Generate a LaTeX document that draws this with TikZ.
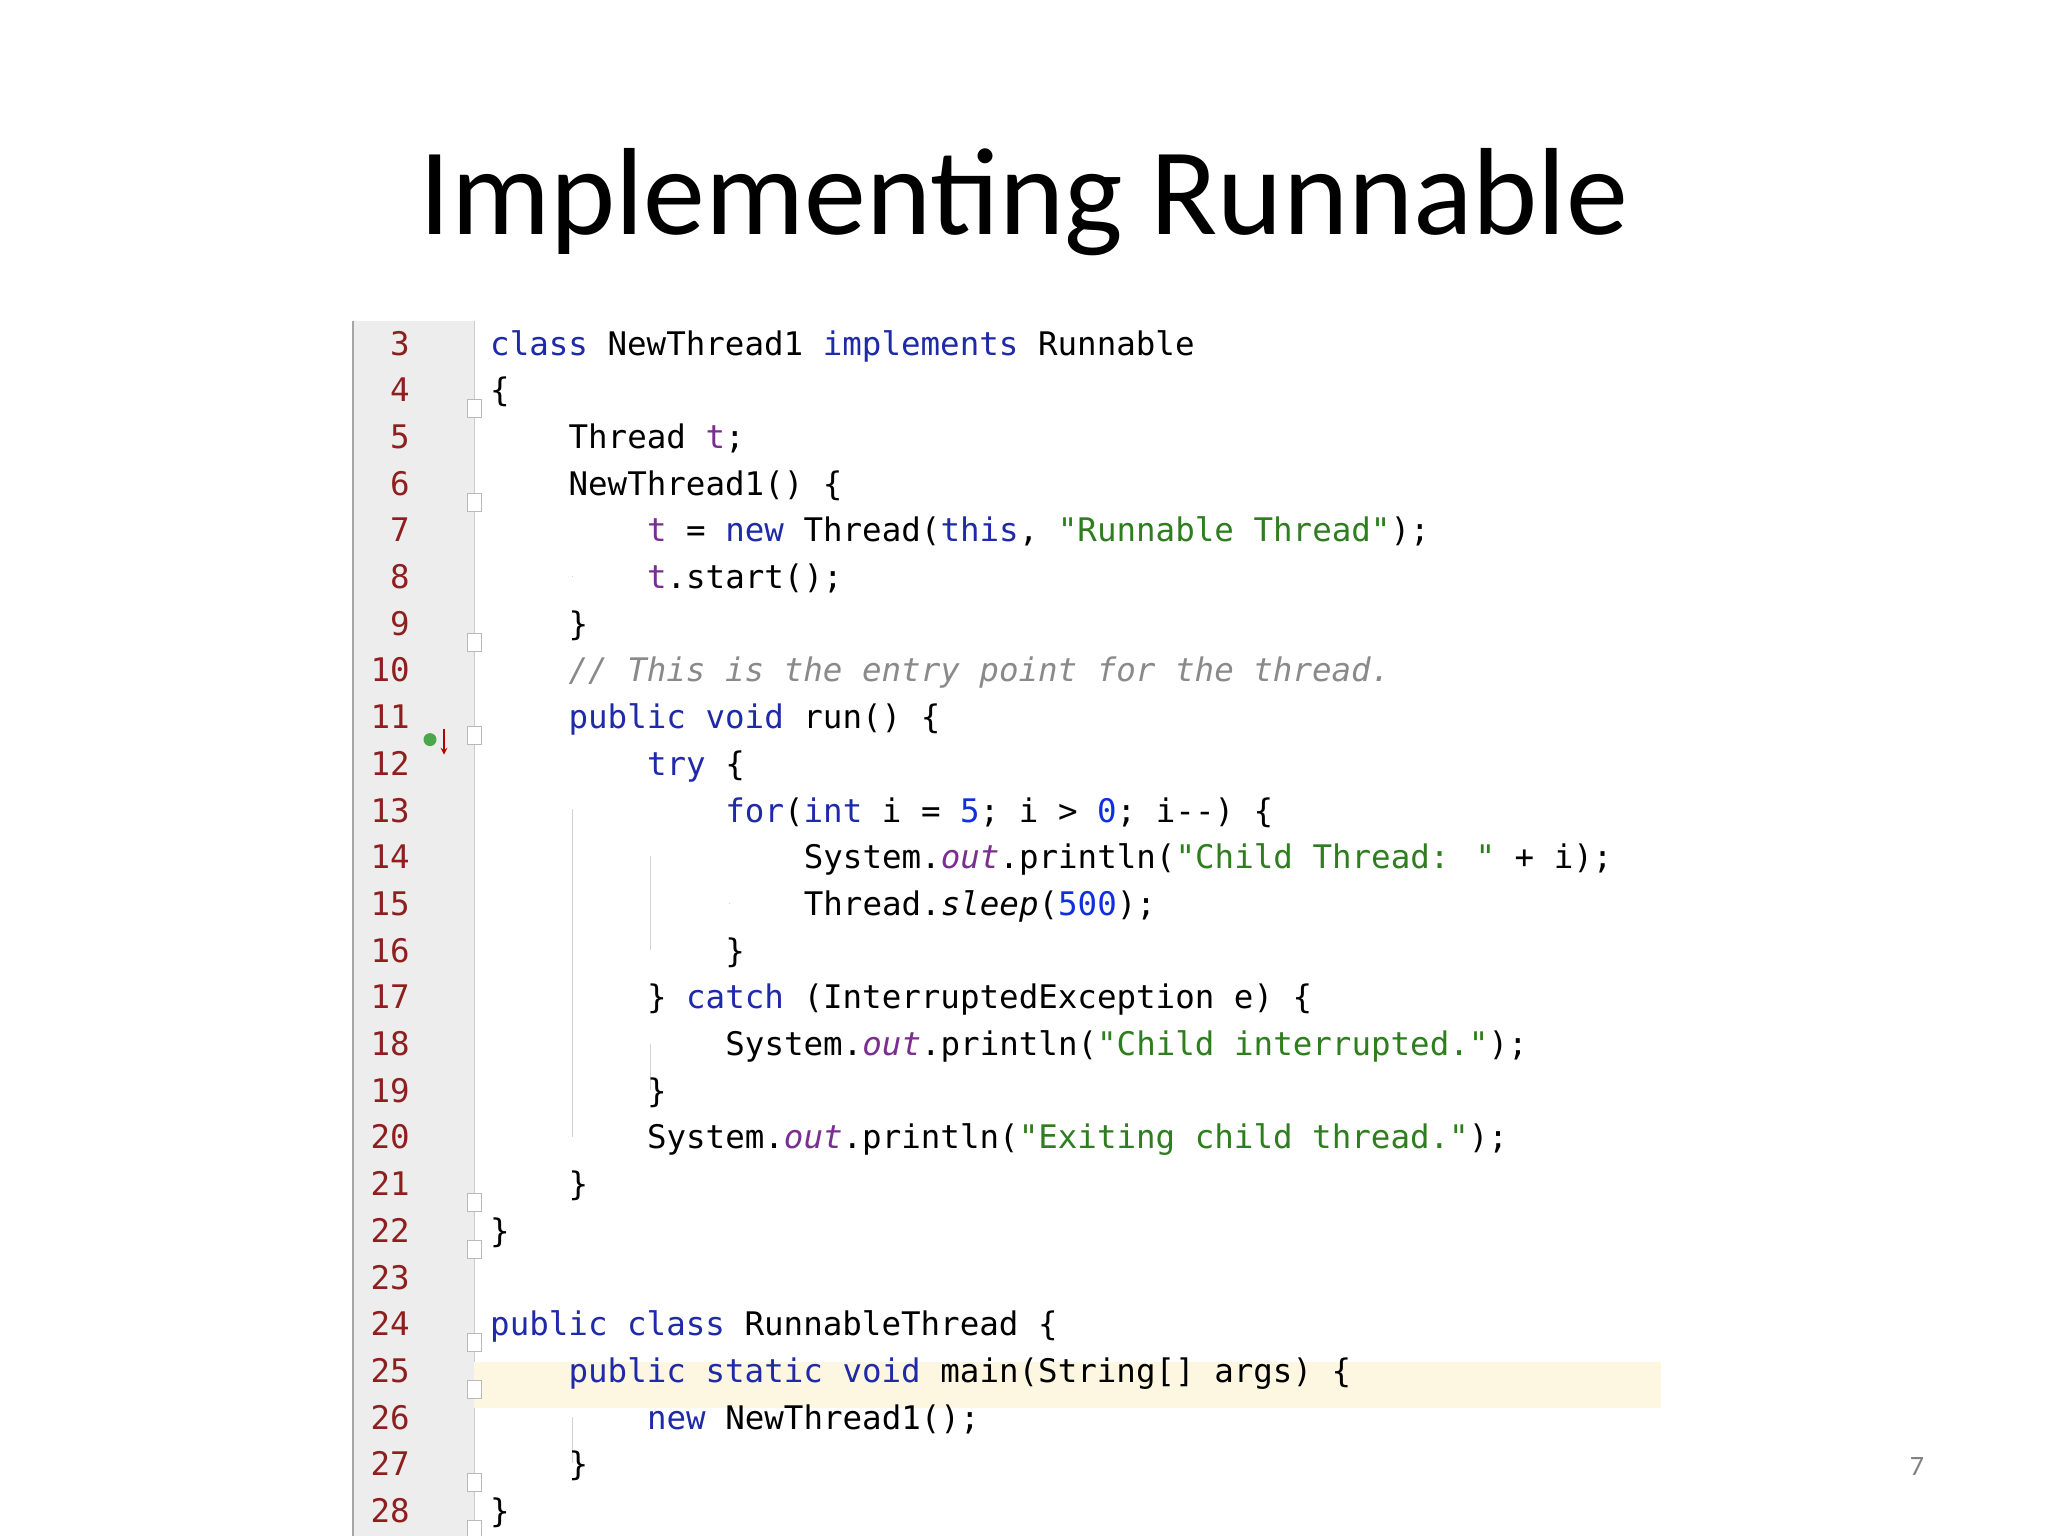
\documentclass[tikz,border=0pt]{standalone}
\usepackage{fontspec}
\setmainfont{Carlito}
\newfontfamily\code{DejaVu Sans Mono}
\definecolor{kwc}{HTML}{1F2AA8}
\definecolor{fldc}{HTML}{7A2E8E}
\definecolor{strc}{HTML}{2E7D1E}
\definecolor{numc}{HTML}{1030E0}
\definecolor{cmtc}{HTML}{8A8A8A}
\definecolor{lnc}{HTML}{8E1F1F}
\definecolor{gutc}{HTML}{EDEDED}
\definecolor{hlc}{HTML}{FDF7E2}
\newcommand\kw[1]{\textcolor{kwc}{#1}}
\newcommand\fld[1]{\textcolor{fldc}{#1}}
\newcommand\fldi[1]{\textcolor{fldc}{\itshape #1}}
\newcommand\str[1]{\textcolor{strc}{#1}}
\newcommand\nm[1]{\textcolor{numc}{#1}}
\newcommand\cmt[1]{\textcolor{cmtc}{\itshape #1}}
\newcommand\ly[1]{(-355-(#1-3)*46.7)}
\newcommand\cl[3]{\node[codetxt] (l#1) at ({490+#2*19.6},{-355-(#1-3)*46.7}) {#3};\node[lnum] (n#1) at (410,{-355-(#1-3)*46.7}) {#1};}
\newcommand\fm[1]{\draw[foldm] ({467},{-355-(#1-3)*46.7+2}) rectangle ({481},{-355-(#1-3)*46.7-16});}
\newcommand\gl[3]{\draw[guide] (#1,{-355-(#2-3)*46.7-34}) -- (#1,{-355-(#3-3)*46.7+12});}
\tikzset{codetxt/.style={anchor=base west,inner sep=0,font=\code\fontsize{32.5}{40}\selectfont},
lnum/.style={anchor=base east,inner sep=0,text=lnc,font=\code\fontsize{32.5}{40}\selectfont},
foldm/.style={draw=gray!55,fill=white,line width=1pt},
guide/.style={draw=gray!35,line width=1pt}}
\begin{document}
\begin{tikzpicture}[x=1pt,y=1pt]
\useasboundingbox[fill=white] (0,0) rectangle (2048,-1536);
\node (title) at (1024,-202) {\fontsize{124}{130}\selectfont Implementing Runnable};
\fill[gutc] (353,-321) rectangle (474,-1536);
\draw[gray!70,line width=2pt] (353,-321) -- (353,-1536);
\draw[gray!40,line width=1pt] (474,-321) -- (474,-1536);
\fill[hlc] (474,{-355-22*46.7-26}) rectangle (1661,{-355-22*46.7+20});
\gl{572}{7}{8}
\gl{572}{12}{20}
\gl{650}{13}{16}
\gl{650}{18}{18}
\gl{729}{14}{15}
\gl{572}{26}{26}
\foreach \k in {4,6,9,11,21,22,24,25,27,28} {\fm{\k}}
\cl{3}{0}{\kw{class} NewThread1 \kw{implements} Runnable}
\cl{4}{0}{\{}
\cl{5}{4}{Thread \fld{t};}
\cl{6}{4}{NewThread1() \{}
\cl{7}{8}{\fld{t} = \kw{new} Thread(\kw{this}, \str{"Runnable Thread"});}
\cl{8}{8}{\fld{t}.start();}
\cl{9}{4}{\}}
\cl{10}{4}{\cmt{// This is the entry point for the thread.}}
\cl{11}{4}{\kw{public} \kw{void} run() \{}
\cl{12}{8}{\kw{try} \{}
\cl{13}{12}{\kw{for}(\kw{int} i = \nm{5}; i > \nm{0}; i-{}-) \{}
\cl{14}{16}{System.\fldi{out}.println(\str{"Child Thread: "} + i);}
\cl{15}{16}{Thread.{\itshape sleep}(\nm{500});}
\cl{16}{12}{\}}
\cl{17}{8}{\} \kw{catch} (InterruptedException e) \{}
\cl{18}{12}{System.\fldi{out}.println(\str{"Child interrupted."});}
\cl{19}{8}{\}}
\cl{20}{8}{System.\fldi{out}.println(\str{"Exiting child thread."});}
\cl{21}{4}{\}}
\cl{22}{0}{\}}
\cl{23}{0}{}
\cl{24}{0}{\kw{public} \kw{class} RunnableThread \{}
\cl{25}{4}{\kw{public} \kw{static} \kw{void} main(String[] args) \{}
\cl{26}{8}{\kw{new} NewThread1();}
\cl{27}{4}{\}}
\cl{28}{0}{\}}
\node[circle,fill=green!50!black!70,inner sep=0,minimum size=13pt] (ic) at (430,{-355-8*46.7-11}) {};
\draw[red!70!black,line width=2pt,-stealth] (444,{-355-8*46.7}) -- (444,{-355-8*46.7-26});
\node (pg) at (1917,-1467) {\fontsize{28}{30}\selectfont\color{gray}7};
\end{tikzpicture}
\end{document}
